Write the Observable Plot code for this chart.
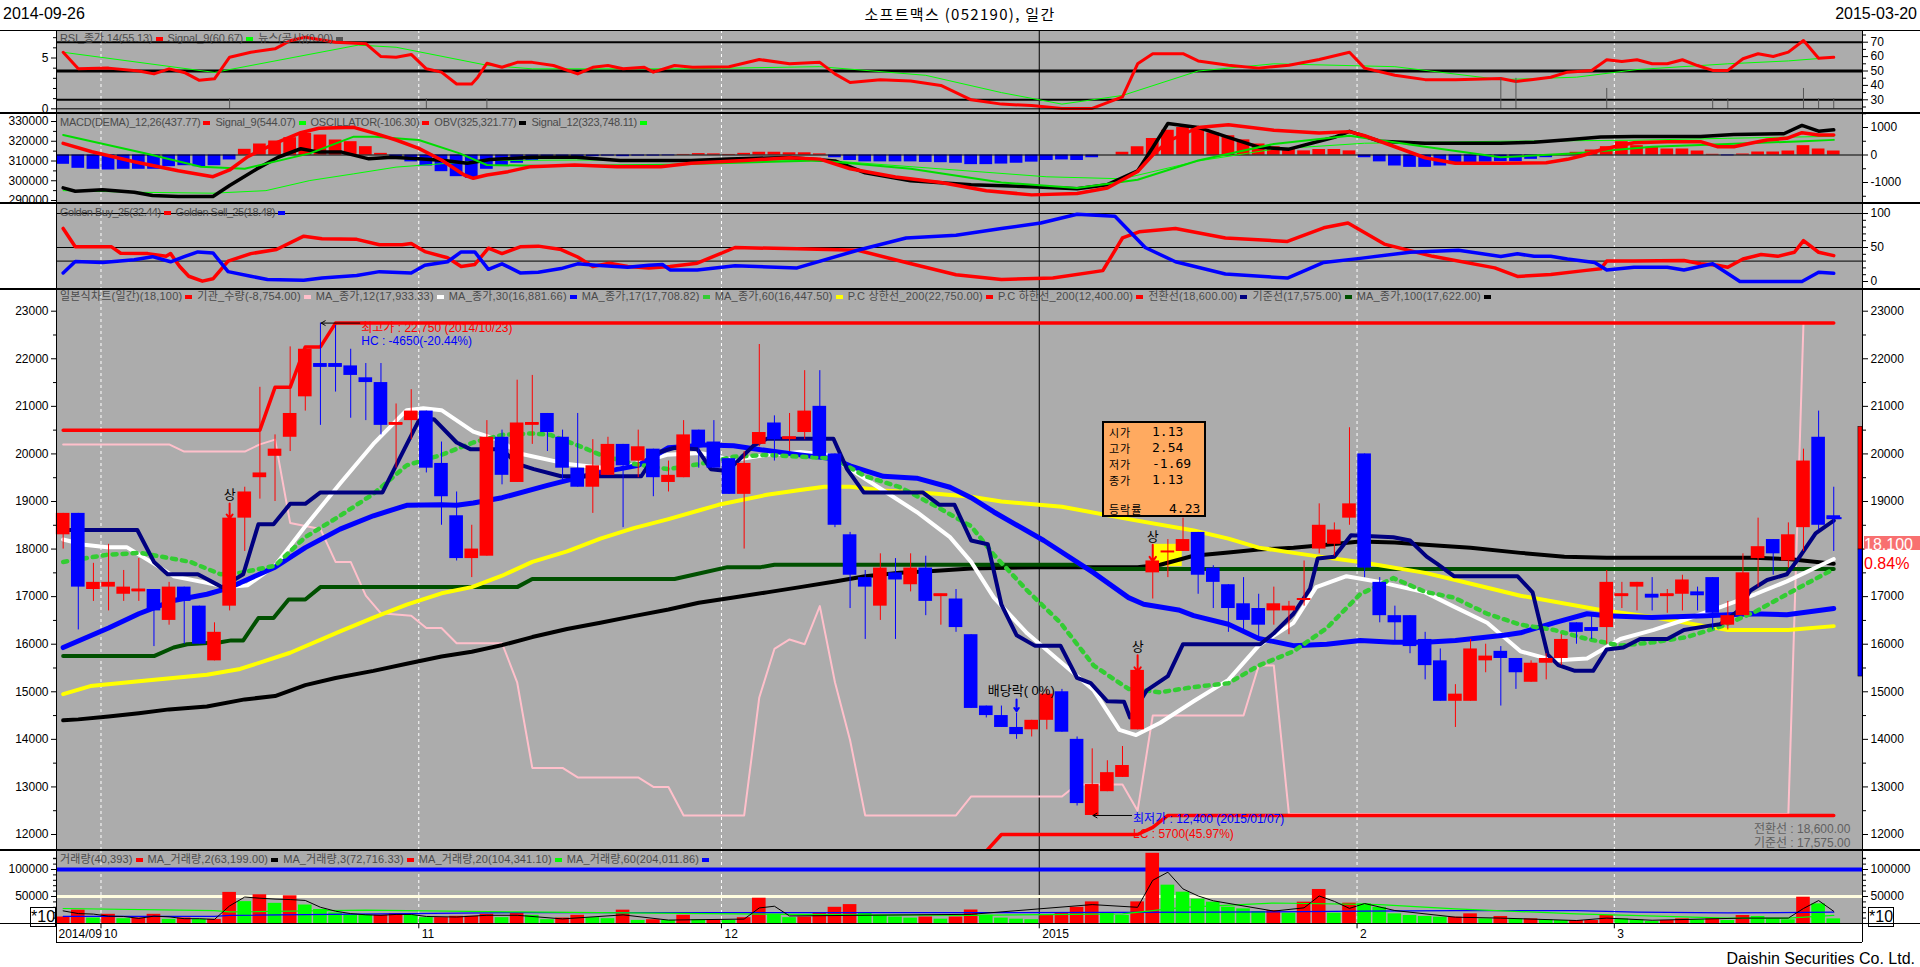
<!DOCTYPE html>
<html><head><meta charset="utf-8">
<script src="https://cdn.jsdelivr.net/npm/d3@7"></script>
<script src="https://cdn.jsdelivr.net/npm/@observablehq/plot@0.6"></script>
<style>
html,body{margin:0;padding:0;background:#fff;}
body{width:1920px;height:967px;overflow:hidden;position:relative;font-family:"Liberation Sans",Arial,"Noto Sans CJK KR",sans-serif;}
.abs{position:absolute;white-space:nowrap;}
.hl{position:absolute;left:0;width:1920px;height:1px;background:#000;}
.leg{position:absolute;left:60px;font-size:11px;color:#4a4a4a;white-space:nowrap;line-height:12px;font-family:"Liberation Sans",Arial,"Noto Sans CJK KR",sans-serif;}
.mk{display:inline-block;width:7px;height:4px;margin:0 5px 1px 3px;vertical-align:middle;}
.bx{position:absolute;left:5px;line-height:15px;height:15px;}
.bx b{font-weight:normal;font-family:"Noto Sans CJK KR",sans-serif;font-size:11px;letter-spacing:1px;}
.bx i{font-style:normal;font-family:"DejaVu Sans Mono",monospace;font-size:13px;position:absolute;top:0;}
</style></head><body>
<script>
// ---------------- DATA ----------------
const dates0 = "2014-09-26", dates1 = "2015-03-20";
const title = "소프트맥스 (052190), 일간";
const monthTicks = [{i:2.5,t:"10"},{i:23.5,t:"11"},{i:43.5,t:"12"},{i:64.5,t:"2015"},{i:85.5,t:"2"},{i:102.5,t:"3"}];
const firstTick = "2014/09";

const open  = [18300,18750,17150,17200,17050,17100,17150,16500,17200,16800,15650,16800,18650,19500,19950,20350,21200,21900,21900,21850,21600,21500,20600,20700,20900,19800,18700,17800,17850,20350,19400,20600,20850,20350,19700,19300,19550,20200,19850,20100,19400,19500,20500,20250,19900,19150,20200,20650,20300,20450,21000,20000,18300,17400,16800,17500,17250,17600,17000,16950,16200,14700,14500,14250,14200,14400,15000,14000,12400,12900,13200,14200,17500,17950,17950,18350,17600,17250,16850,16750,16700,16700,16950,18000,18100,18650,20000,17300,16600,16600,16100,15650,14800,14800,15650,15850,15700,15200,15600,15700,16450,16350,16350,17000,17200,17050,17000,17050,17100,17400,16400,16600,17800,18200,17750,18450,20350,18700];
const high  = [18750,18750,17700,18100,17550,17800,17150,17300,17200,16800,16450,18650,19300,21400,20400,22250,22200,22750,22700,22200,21900,21900,21050,21350,20900,20250,19200,18500,20700,20500,21550,21650,20850,20500,20850,20300,20350,20200,20500,20100,19850,20700,20500,20700,19900,20050,22300,20800,20850,21750,21750,20000,18350,17550,17900,17800,17900,17850,17050,17150,16200,14700,14700,14550,14400,15050,15050,14050,13800,13550,13850,15450,17750,18200,18650,18350,17650,17250,17400,17050,17200,16900,17750,18950,18550,20550,20000,17400,16800,16600,16250,15900,15150,16100,16000,15950,15700,15650,15800,16200,16450,16650,17550,17300,17300,17400,17150,17450,17200,17400,16900,17900,18650,18200,18550,20100,20900,19300];
const low   = [18000,16300,16900,16700,16900,16900,15950,16400,16000,16000,15650,16700,17950,19050,19000,20050,20900,20600,21300,20750,20700,20400,19700,20300,19600,18500,17750,17400,17850,19350,19400,20200,20050,19450,19300,18750,19550,18450,19500,19100,19200,19500,19700,19700,19150,18000,20150,19850,20050,20300,19950,18450,16750,16100,16500,16100,17100,16600,16400,16250,14650,14450,14250,14000,14050,14200,14150,12600,12400,12900,13200,14200,16950,17400,17950,17050,16750,16250,16300,16150,16400,16200,16800,17900,17850,18500,17400,16450,16050,15800,15250,14800,14250,14800,15400,14700,15050,15200,15250,15550,16000,16100,16000,16750,16700,16700,16650,16700,16700,16300,16300,16600,17200,17450,17600,17950,18400,17950];
const close = [18750,17200,17300,17300,17200,17150,16700,17200,16900,16000,16250,18650,19200,19600,20100,20850,22200,21850,21850,21650,21500,20600,20650,20900,19700,19100,17800,18000,20350,19550,20650,20650,20450,19700,19300,19750,20200,19750,20150,19500,19550,20400,20150,19700,19150,19800,20450,20300,20350,20900,19950,18500,17450,17200,17600,17350,17600,16900,17050,16350,14650,14500,14250,14100,14400,14950,14150,12650,13050,13300,13450,15450,17750,17950,18200,17450,17300,16750,16500,16400,16850,16800,16950,18500,18400,18950,17600,16600,16450,15950,15550,14800,14950,15900,15750,15700,15400,15600,15700,16100,16250,16300,17300,17050,17300,17000,17050,17350,17050,16650,16600,17500,18050,17900,18300,19850,18500,18650];

// main-panel overlay lines: [day index, price]
const ma12  = [[0,18200],[1.4,18090],[2.9,18040],[4.2,18040],[5.8,17730],[7.3,17430],[9.5,17290],[10.8,17200],[12.2,17240],[14,17650],[16,18480],[18.3,19380],[20.5,20210],[22.7,20920],[23.8,20960],[25,20920],[27.1,20470],[29,20270],[30,20020],[33.3,19790],[36.6,19680],[39.9,19980],[42.1,20020],[44.3,19870],[46.5,19980],[48.7,20040],[50.6,19980],[52,19680],[54.2,19230],[56.4,18780],[58.6,18250],[60,17730],[61.5,16980],[63.7,16230],[65.9,15630],[68.1,15030],[69.8,14200],[70.9,14090],[72.5,14350],[74.7,14800],[77,15250],[79,15970],[81.3,16450],[82.8,17200],[84.8,17430],[86.8,17320],[90,17090],[91.9,16790],[94.1,16450],[96.3,15850],[98.5,15660],[100.7,15700],[102.9,16110],[105.1,16300],[107.3,16530],[109.6,16790],[111.8,17050],[113.9,17320],[117,17790]];
const ma30  = [[0,15930],[3,16340],[5,16640],[7.3,16920],[9.5,17050],[10.8,17170],[11.7,17290],[14,17620],[16,18030],[18.3,18420],[20.5,18700],[22.7,18920],[25,18930],[26,18920],[27.1,18970],[29,19080],[32,19340],[35,19580],[38,19760],[40,20130],[42.5,20190],[44.3,20170],[46.5,20070],[48.7,19980],[50.9,19900],[52,19750],[54.2,19530],[56.4,19490],[58.6,19300],[60,19080],[61.5,18780],[64.8,18180],[68.1,17500],[70.4,16980],[71.4,16840],[73.7,16720],[74.7,16600],[77,16420],[79,16120],[81.3,15970],[83.5,16000],[85.7,16080],[87.9,16040],[90,16040],[92,16080],[95.2,16190],[96.3,16240],[98.5,16450],[100.7,16640],[102,16600],[105,16560],[108.6,16600],[111.6,16640],[113.9,16620],[117,16750]];
const ma17  = [[0,17730],[2.9,17880],[5.1,17920],[8.4,17730],[10.4,17470],[11.7,17500],[14,17650],[16,18250],[18.3,18700],[20.5,19160],[22.7,19760],[25,19980],[27.1,20240],[29,20400],[31,20430],[32.2,20400],[34.4,20130],[35.5,19980],[37.7,19790],[40,19680],[42.1,19790],[44.3,19940],[46.5,19980],[48.7,19940],[50.9,19910],[53,19530],[55.3,19300],[57.5,18930],[60,18480],[61.5,17880],[63.7,17130],[65.9,16450],[68.1,15550],[70.4,15060],[72.5,14990],[74.7,15100],[77,15180],[79,15550],[81.3,15850],[83.5,16340],[85.7,17050],[87.9,17390],[90,17100],[91.9,16980],[94.1,16640],[96.3,16410],[98.5,16300],[100.7,16110],[102.9,15970],[105.1,16040],[107.3,16150],[109.6,16380],[111.8,16680],[113.9,17050],[117,17580]];
const ma60  = [[0,14950],[1.8,15120],[5,15220],[9.5,15360],[11.7,15480],[15,15820],[18.3,16270],[20.5,16560],[22.7,16830],[25,17070],[27,17200],[29,17440],[31,17730],[33.3,17950],[35.5,18220],[37.7,18440],[40,18630],[42,18810],[43.3,18930],[46.5,19140],[48.7,19240],[50.3,19310],[52,19310],[54.2,19230],[57.5,19170],[60,19100],[62,19000],[66,18890],[70.4,18630],[74.7,18390],[77,18220],[79,18030],[81.3,17920],[83.5,17820],[85.7,17730],[90,17500],[92,17350],[96.3,17020],[101.6,16720],[105,16570],[108.5,16380],[110,16300],[114,16300],[117,16380]];
const ma100 = [[0,14400],[1,14420],[3,14480],[5,14550],[7,14630],[9.5,14690],[12,14840],[14,14910],[16,15140],[18,15290],[20.5,15440],[22.7,15590],[25,15740],[27,15840],[29,15980],[31,16150],[33.3,16320],[35.5,16450],[37.7,16590],[40,16730],[42,16870],[44.3,16980],[46.5,17090],[48.7,17200],[51,17320],[53,17430],[55.3,17500],[57.5,17540],[60,17590],[64.4,17620],[71,17620],[72.5,17670],[74.7,17860],[77,17930],[79,17990],[81.3,18030],[83.5,18090],[85.7,18160],[88,18140],[90,18090],[93,18030],[96.3,17920],[99.2,17840],[102,17820],[111.7,17820],[114,17790],[117,17690]];
const tenkan = [[0,18400],[4.9,18400],[6,17730],[6.9,17470],[8.9,17470],[10.5,17200],[11.9,17470],[12.9,18520],[13.9,18520],[15,18950],[16,18950],[17,19190],[21.1,19190],[22,19760],[23.5,20700],[24.5,20730],[26,20240],[26.9,20100],[29,20100],[30,19790],[31.1,19680],[32.9,19530],[38.2,19530],[39.2,20020],[40.4,20130],[41.9,20100],[42.8,19680],[43.9,19640],[45.6,20170],[46.5,20320],[50.9,20320],[51.8,19680],[52.9,19190],[56.8,19190],[57.9,18930],[58.9,18930],[60,18180],[61.1,18100],[62,16830],[63,16190],[64.2,15970],[65.9,15970],[67,15290],[67.9,15180],[69,14800],[70.1,14790],[70.5,14460],[71.6,15030],[73,15330],[74,16000],[79.1,16000],[80,16230],[81.3,16640],[82.4,17170],[82.9,17800],[84,17840],[85.1,18290],[87.9,18250],[89,18180],[90.1,17840],[90.8,17690],[91.9,17430],[96.1,17430],[97.1,17090],[98.1,15780],[98.8,15560],[99.9,15440],[101.1,15440],[102,15890],[103.1,15930],[104.2,16110],[106,16110],[107.1,16300],[108.6,16380],[109.5,16420],[110.6,16680],[111.5,17130],[112.6,17350],[113.9,17470],[114.6,17770],[115.8,18330],[117,18600]];
const kijun = [[0,15750],[6,15750],[7.3,15930],[8.2,16000],[10.4,16040],[11.1,16080],[11.9,16080],[12.9,16550],[13.9,16550],[14.9,16940],[16,16940],[17,17200],[30,17200],[31,17370],[40.4,17370],[41.8,17470],[43.9,17620],[46.1,17620],[47,17670],[67,17670],[68,17580],[117,17580]];
const pcUpper = [[0,20500],[13,20500],[14,21400],[15,21400],[16,22250],[17,22250],[18,22750],[117,22750]];
const pcLower = [[60,11300],[62,12000],[71,12000],[72,12150],[73,12400],[117,12400]];
// institutional quantity, drawn on the price axis as in the source chart
const inst = [[0,20200],[7,20200],[8,20050],[12,20050],[13,20200],[14,20300],[15,18550],[17,18420],[18,17730],[19,17730],[20,17020],[21,16650],[23,16600],[24,16340],[25,16340],[26,16020],[29,16020],[30,15200],[31,13400],[33,13400],[34,13200],[38,13200],[39,13000],[40,13000],[41,12400],[45,12400],[46,14880],[47,15900],[48,16100],[49,16000],[50,16800],[51,15200],[52,13980],[53,12400],[59,12400],[60,12800],[66,12800],[67,13050],[70,13050],[71,12500],[72,14500],[78,14500],[79,15550],[80,15550],[81,12430],[114,12430],[115,22750]];

// RSI panel
const rsi = [[0,63],[1,51.5],[3,52],[5,50],[6,48],[7,51.5],[8,49],[9,43.5],[10,44.6],[11,59.6],[12.4,63],[14,65.4],[15,71],[16,73.5],[18,70],[20,69],[21,60],[22,59.6],[23,61.5],[24,51.5],[25,49.2],[26,41],[27,41],[27.4,45.7],[28,55.4],[29,52.6],[30,56],[31,56],[32.4,53.8],[34,48],[35,52.6],[36,53.8],[37,51.5],[38.4,52.6],[39,49.2],[40.4,53.8],[41.6,52.6],[44,53],[46,58],[48,55],[50,56],[51,48],[52,42],[54,44],[56,43],[58,40],[60,30],[62,27],[64,26],[66,24],[68,24],[70,32],[71,55],[72,62],[74,62],[75,57],[77,54],[79,52],[81,54],[83,58],[85,63],[86,52],[88,47],[90,44],[92,44],[95,44.8],[96,42.7],[97,43.9],[98.3,45.7],[99.4,49.2],[101,50.4],[102,57.8],[103,56.6],[104,57.8],[105,55],[106,55],[107,57.8],[108,53.8],[109,50.4],[110,50.4],[111,58.5],[112,62],[113,60.1],[114,63.1],[115,71.2],[116,58.9],[117,59.5]];
const rsiSig = [[0,63],[10,49],[19.5,68],[22,66.5],[28,54],[31,51.5],[41,51.5],[50,53],[57,47],[62,35],[66,27],[70,33],[75,50],[80,55],[88,53],[95,44],[100,45.7],[104,51],[110,55],[114,57],[117,59.5]];
const news = [[11,1],[24,1],[28,1],[95,3],[96,3],[102,2],[109,1],[110,1],[115,2],[116,1],[117,1]];

// MACD panel
const osc = [-338,-484,-520,-545,-520,-520,-520,-425,-389,-425,-389,-180,207,400,509,630,788,727,545,484,303,60,-60,-250,-400,-606,-788,-848,-520,-400,-300,-200,-150,-100,-80,-60,-40,-60,-40,-40,-30,20,50,40,20,60,100,100,80,80,40,-100,-200,-250,-250,-250,-250,-270,-280,-300,-350,-350,-330,-300,-260,-200,-180,-200,-100,0,100,300,600,900,1000,950,800,700,550,400,300,200,150,200,200,150,-100,-250,-400,-450,-450,-400,-350,-300,-260,-242,-242,-158,-97,-10,98,182,303,484,339,280,218,218,145,25,-30,36,109,109,145,339,218,145];
const macd = [[0,425],[1.9,120],[4.7,-244],[7.6,-570],[9.9,-788],[11,-545],[12.2,-60],[14,425],[15.7,812],[16.9,970],[19.2,1006],[20.6,788],[22,545],[23.5,242],[25,-180],[26.5,-727],[27.1,-848],[28,-727],[29.4,-606],[30.9,-424],[33.8,-364],[36.6,-424],[39.5,-424],[41.5,-303],[45,-200],[48,-100],[50,-150],[52,-500],[55,-800],[58,-1000],[61,-1300],[64,-1450],[67,-1400],[69,-1200],[71,-600],[72,0],[73,500],[75,1000],[77,1100],[80,900],[83,800],[85,850],[86,700],[88,300],[90,-100],[92,-300],[95,-302],[98,-280],[99.4,-158],[100.3,-36],[101.6,182],[102.7,327],[103.8,448],[106,484],[108.2,484],[109.3,303],[110.4,303],[111.5,425],[112.6,545],[113.9,606],[114.9,812],[116,727],[117,727]];
const macdSig = [[0,727],[5.4,60],[9.1,-424],[12,-500],[16.3,60],[19.2,666],[20.6,666],[23.5,545],[26.2,60],[28,-364],[32,-400],[40,-350],[50,-200],[56,-500],[62,-1000],[67,-1200],[71,-900],[75,-200],[80,400],[85,700],[90,300],[95,-80],[100,60],[105,300],[110,400],[115,500],[117,550]];
const obv = [[0,296400],[0.8,294700],[2.6,295400],[4.7,294200],[5.9,292500],[7.6,292000],[9.9,292000],[11,297600],[12.8,306000],[14.2,311900],[15.7,316200],[16.9,314500],[18.4,314500],[20.2,311100],[21.7,311900],[23.5,311100],[25.2,310250],[26.7,308900],[28.2,310760],[31,311900],[33.9,311900],[36.8,310250],[41.5,310250],[44,311000],[48,311800],[51,310000],[53,304000],[56,300000],[60,298000],[64,297000],[67,296000],[69,298000],[71,305000],[72,316800],[73,329000],[75,327000],[77,322000],[79,317000],[81,316000],[84,322000],[85,325000],[87,320000],[90,319000],[95,319000],[97.2,319500],[99.4,320700],[101.6,322100],[103.8,322400],[108.2,322400],[110.4,323400],[113.7,323800],[114.9,328000],[116,325100],[117,325800]];
const obvSig = [[0,295000],[4.7,294200],[9.9,293700],[13.4,295000],[16.3,300100],[19.2,303500],[22,306900],[25,308600],[28,310250],[33.9,310500],[41.5,310250],[50,310500],[58,306000],[65,302000],[70,301000],[75,310000],[80,316000],[86,319000],[95,320000],[103.8,320500],[110,321500],[117,322500]];

// Golden panel
const gBuy = [[0,78],[0.8,51],[3.2,51],[3.8,41.5],[5.6,41],[6.8,37],[7.1,41],[7.7,22],[8.3,7.7],[9.2,0.5],[9.9,4],[10.9,30],[12.4,41],[14.1,47],[15.9,66.7],[17.1,63],[19.4,62],[20.9,54],[22.4,54],[23,56],[23.9,44],[25.4,35],[26.3,22],[27.2,25],[28.1,49],[29,41],[30.2,51],[31.4,52],[32.9,47],[34,36],[35,22],[36.1,27],[37.3,22],[38.7,20],[40.1,22],[41.9,27],[44.4,50],[48.5,48],[52.5,46],[55.7,28],[59,10],[62,3],[65.4,5],[68.7,16],[70,64],[71.1,73],[73.5,78],[76.8,64],[80.9,59],[83.3,79],[84.9,86],[87.3,55],[90.5,37],[94.6,20],[96.1,7.4],[98.3,10.3],[100.5,16],[101.6,18.6],[102,30],[103.8,30],[107.1,31],[108.2,26],[109.3,24],[110,21],[111,33],[112.2,39.7],[113.3,37],[114.4,43],[115,60],[116,43],[117,38]];
const gSell = [[0,12.6],[0.8,29.4],[2.6,28],[4.7,32],[5.9,36.5],[7.1,29],[8,36.5],[8.9,43.5],[9.9,42],[10.9,14.5],[12.4,7.7],[13.5,3],[15.9,2],[17.1,5],[19.4,8.7],[20.9,14.5],[23,12.6],[23.9,24],[25.4,29],[26.3,43.5],[27.2,43.5],[28.1,17.9],[29,26],[30.2,12.6],[31.4,13.5],[32.9,19],[34,26],[35.2,24],[37.3,21],[38.7,24],[39.6,25],[40.1,17],[41.9,17],[44.4,23],[48.5,20],[52.5,46],[55.7,64],[59,68],[62,78],[64.6,86],[67,99],[69.5,96],[71.5,50],[73.5,29],[76.8,11],[80.9,5],[83.3,28],[85.7,34],[89,43],[92.2,46],[95,36.8],[96.1,40.7],[97.2,37],[98.3,37],[99.4,33],[101.2,28],[102,17],[103.8,21],[106,21],[107.1,17],[109,26],[110.8,0],[114.9,0],[116,13.7],[117,12]];

// Volume panel
const vol = [12000,24700,10100,17000,8900,10100,17000,7600,10100,7600,7600,57600,40500,53200,37300,51300,34200,26000,19600,17100,15200,15200,18400,15200,10800,10800,13300,13300,17100,10800,19600,15200,7000,10100,15200,10800,8900,24700,5700,7000,5700,15200,7000,7000,5700,10800,46800,17100,10800,12000,20000,30000,35000,20000,15000,12000,10000,12000,8000,12000,25000,15000,10000,8000,7000,15000,20000,30000,40000,20000,15000,40000,130000,71000,58000,45000,39500,30200,27100,22200,24000,19100,39500,63000,19100,37600,36400,30000,17900,14800,13000,11700,11700,17900,8600,13000,8600,8600,6800,5500,5500,5500,14800,8600,6800,3700,5500,8600,6800,8600,5500,14800,13000,8600,6800,48700,36400,8600];
const volMa20 = [[0,27800],[10,24000],[11,21500],[20,24700],[30,21500],[48,17000],[60,15000],[70,18000],[74,30000],[80,38000],[87,35000],[92,27000],[100,17900],[110,10000],[114,10000],[117,15000]];
const volMa60 = [[0,13300],[10,13300],[11,15200],[30,20200],[60,20000],[76,21000],[86,22800],[92,24000],[100,24000],[104,21000],[110,19500],[117,21000]];
const volMa2  = [[0,23400],[1,18400],[2,17400],[3,13600],[4,13000],[5,9500],[6,13600],[7,12300],[8,8900],[9,8900],[10,7600],[11,32600],[12,49000],[13,46800],[14,45200],[15,44300],[16,42700],[17,30100],[18,22800],[19,18300],[20,16100],[21,15200],[22,16800],[23,16800],[24,13000],[26,12000],[28,15200],[30,15200],[33,8500],[37,16000],[40,6300],[45,8200],[46,28800],[47,32000],[48,14000],[60,17000],[68,35000],[71,30000],[72,80000],[73,95000],[74,64000],[75,51000],[76,42000],[80,23000],[82,29000],[83,51000],[84,41000],[85,28000],[86,37000],[88,24000],[92,11700],[95,10000],[100,5500],[102,10000],[105,6000],[111,10000],[114,10000],[115,27800],[116,42500],[117,22500]];

// ---------------- RENDER ----------------
const FONT = '"Liberation Sans", Arial, "Noto Sans CJK KR", sans-serif';
const BG = "#acacac";
const XD = [-0.44, 118.9];
const dividers = [2.5, 23.5, 43.5, 85.5, 102.5];
const P = d => d[0], V = d => d[1];
const candles = open.map((o, i) => ({i, o, h: high[i], l: low[i], c: close[i], col: close[i] >= o ? "#ff0000" : "#0000ff"}));

function el(html) { const d = document.createElement("div"); d.innerHTML = html; const n = d.firstElementChild; document.body.appendChild(n); return n; }
function plot(height, yd, yr, marks) {
  const svg = Plot.plot({
    width: 1920, height, marginLeft: 56, marginRight: 58, marginTop: 0, marginBottom: 0,
    x: {domain: XD, axis: null}, y: {domain: yd, range: yr, axis: null},
    color: {type: "identity"},
    style: {background: "transparent", fontFamily: FONT, fontSize: "12px", color: "#000", overflow: "visible"},
    marks
  });
  svg.style.position = "absolute"; svg.style.left = "0px"; svg.style.top = "0px";
  return svg;
}
function panel(top, height, layers) {
  const div = document.createElement("div");
  div.style.cssText = `position:absolute;left:0;top:${top}px;width:1920px;height:${height}px;`;
  layers.forEach(l => div.appendChild(plot(height, l.yd, l.yr, l.marks)));
  document.body.appendChild(div);
}
const vgrid = () => [
  Plot.ruleX(dividers, {stroke: "#fff", strokeDasharray: "3,3"}),
  Plot.ruleX([64.5], {stroke: "#000"})
];
const bg = () => Plot.frame({fill: BG, stroke: null});
const borders = () => [Plot.ruleX([XD[0], XD[1]], {stroke: "#000"})];
const axR = (ticks, minor, hide = []) => [
  Plot.axisY({anchor: "right", label: null, ticks, tickSize: 5, tickPadding: 3, tickFormat: d => hide.includes(d) ? "" : String(d)}),
  ...(minor ? [Plot.axisY({anchor: "right", label: null, ticks: minor, tickSize: 3, tickFormat: () => ""})] : [])
];
const axL = (ticks, minor) => [
  Plot.axisY({anchor: "left", label: null, ticks, tickSize: 5, tickPadding: 3, tickFormat: d => String(d)}),
  ...(minor ? [Plot.axisY({anchor: "left", label: null, ticks: minor, tickSize: 3, tickFormat: () => ""})] : [])
];
const line = (data, stroke, w, extra = {}) => Plot.line(data, {x: P, y: V, stroke, strokeWidth: w, curve: "linear", ...extra});
function legend(top, items, right) {
  const n = el(`<div class="leg" style="top:${top}px">` + items.map(([t, c]) => `${t}<span class="mk" style="background:${c}"></span>`).join("") + `</div>`);
  const w = n.getBoundingClientRect().width;
  const chars = items.reduce((s, [t]) => s + t.length, 0);
  n.style.letterSpacing = ((right - 60 - w) / chars).toFixed(3) + "px";
}

// header
el(`<div class="abs" style="left:3px;top:5px;font:bold 13px ${FONT}">${dates0}</div>`);
el(`<div class="abs" style="left:0;width:1920px;top:3px;text-align:center;font:15px 'Noto Sans CJK KR',sans-serif;letter-spacing:1.3px">${title}</div>`);
el(`<div class="abs" style="right:3px;top:5px;font:bold 13px ${FONT}">${dates1}</div>`);

// RSI panel (30..113)
panel(30, 83, [
  {yd: [30, 70], yr: [69.3, 11.7], marks: [
    bg(), ...vgrid(),
    Plot.ruleY([70, 30], {stroke: "#000", strokeWidth: 2}),
    Plot.ruleY([50], {stroke: "#000", strokeWidth: 3}),
    line(rsiSig, "#00ff00", 1),
    line(rsi, "#ff0000", 3),
    ...axR([30, 40, 50, 60, 70], d3.range(25, 76, 5).filter(v => v % 10)),
    ...borders()
  ]},
  {yd: [0, 5], yr: [78.3, 27.5], marks: [
    Plot.ruleX(news, {x: P, y1: 0, y2: V, stroke: "#555"}),
    Plot.ruleY([0], {stroke: "#000"}),
    ...axL([0, 5], [1, 2, 3, 4, 6, 7])
  ]}
]);
legend(32, [["RSI_종가,14(55.13)", "#ff0000"], ["Signal_9(60.67)", "#00ff00"], ["뉴스(공시)(0.00)", "#555"]], 348);

// MACD panel (113..203)
panel(113, 90, [
  {yd: [-1000, 1000], yr: [69, 14], marks: [
    bg(), ...vgrid(),
    Plot.rect(osc.map((v, i) => [i, v]), {x1: d => d[0] - 0.42, x2: d => d[0] + 0.42, y1: 0, y2: V, fill: d => d[1] >= 0 ? "#ff0000" : "#0000ff"}),
    Plot.ruleY([0], {stroke: "#000"}),
    ...axR([-1000, 0, 1000], [-1500, -500, 500, 1500])
  ]},
  {yd: [290000, 330000], yr: [87, 8], marks: [
    line(obvSig, "#00ff00", 1),
    line(obv, "#000000", 3.5),
    ...axL([290000, 300000, 310000, 320000, 330000], [295000, 305000, 315000, 325000])
  ]},
  {yd: [-1000, 1000], yr: [69, 14], marks: [
    line(macdSig, "#00dd00", 2),
    line(macd, "#ff0000", 3.5),
    ...borders()
  ]}
]);
legend(116, [["MACD(DEMA)_12,26(437.77)", "#ff0000"], ["Signal_9(544.07)", "#00ff00"], ["OSCILLATOR(-106.30)", "#ff0000"], ["OBV(325,321.77)", "#000"], ["Signal_12(323,748.11)", "#00ff00"]], 652);

// Golden panel (203..289)
panel(203, 86, [
  {yd: [0, 100], yr: [78, 10], marks: [
    bg(), ...vgrid(),
    Plot.ruleY([100, 50, 30], {stroke: "#000"}),
    line(gBuy, "#ff0000", 3.5),
    line(gSell, "#0000ff", 3.5),
    ...axR([0, 50, 100], [10, 20, 30, 40, 60, 70, 80, 90]),
    ...borders()
  ]}
]);
legend(206, [["Golden Buy_25(32.44)", "#ff0000"], ["Golden Sell_25(18.48)", "#0000ff"]], 290);

// Main panel (289..850)
const priceTicks = d3.range(12000, 23001, 1000);
const priceMinor = d3.range(11500, 23500, 500).filter(v => v % 1000);
panel(289, 561, [
  {yd: [12000, 23000], yr: [545, 21.7], marks: [
    bg(), ...vgrid(),
    Plot.rect([[72, 73.95]], {x1: d => d[0], x2: d => d[1], y1: 17630, y2: 18100, fill: "#ffff00"}),
    line(inst, "#ffc0cb", 2),
    line(pcUpper, "#ff0000", 3.5),
    line(pcLower, "#ff0000", 3.5, {clip: true}),
    line(ma100, "#000000", 4),
    line(kijun, "#005000", 4),
    line(ma60, "#ffff00", 4),
    line(ma12, "#ffffff", 4),
    line(ma30, "#0000ff", 5),
    line(ma17, "#33cc33", 4.5, {strokeDasharray: "4,6"}),
    line(tenkan, "#000080", 4),
    Plot.ruleX(candles, {x: "i", y1: "l", y2: "h", stroke: "col"}),
    Plot.rect(candles, {x1: d => d.i - 0.45, x2: d => d.i + 0.45, y1: d => Math.min(d.o, d.c), y2: d => Math.max(d.o, d.c), fill: "col"}),
    Plot.ruleY(candles.filter(d => Math.abs(d.o - d.c) < 60), {y: "c", x1: d => d.i - 0.45, x2: d => d.i + 0.45, stroke: "col", strokeWidth: 2}),
    Plot.ruleY([18650], {x1: 117, x2: 117.55, stroke: "#0000ff", strokeWidth: 2}),
    // annotations
    Plot.arrow([0], {x1: 19.6, y1: 22750, x2: 17.05, y2: 22750, stroke: "#000", strokeWidth: 1, headLength: 7}),
    Plot.text(["최고가 : 22,750 (2014/10/23)"], {x: 19.7, y: 22650, text: d => d, fill: "#ff0000", textAnchor: "start", fontSize: 12}),
    Plot.text(["HC : -4650(-20.44%)"], {x: 19.7, y: 22365, text: d => d, fill: "#0000ff", textAnchor: "start", fontSize: 12}),
    Plot.arrow([0], {x1: 70.6, y1: 12400, x2: 68.05, y2: 12400, stroke: "#000", strokeWidth: 1, headLength: 7}),
    Plot.text(["최저가 : 12,400 (2015/01/07)"], {x: 70.7, y: 12325, text: d => d, fill: "#0000ff", textAnchor: "start", fontSize: 12}),
    Plot.text(["LC : 5700(45.97%)"], {x: 70.7, y: 12010, text: d => d, fill: "#ff0000", textAnchor: "start", fontSize: 12}),
    Plot.text([[11, 19130], [71, 15935], [72, 18265]], {x: P, y: V, text: () => "상", fill: "#000", fontSize: 13, fontFamily: "Noto Sans CJK KR"}),
    Plot.arrow([[11, 18960, 18640], [71, 15770, 15420], [72, 18090, 17740]], {x1: P, x2: P, y1: d => d[1], y2: d => d[2], stroke: "#ff0000", strokeWidth: 2, headLength: 6, headAngle: 70}),
    Plot.text(["배당락( 0%)"], {x: 61.1, y: 15030, text: d => d, fill: "#000", textAnchor: "start", fontSize: 13}),
    Plot.arrow([[63, 14840, 14590]], {x1: P, x2: P, y1: d => d[1], y2: d => d[2], stroke: "#0000ff", strokeWidth: 2, headLength: 6, headAngle: 70}),
    Plot.text(["전환선 : 18,600.00", "기준선 : 17,575.00"], {x: 118.1, y: (d, i) => [12113, 11813][i], text: d => d, fill: "#606060", textAnchor: "end", fontSize: 12}),
    Plot.rect([[20570, 17990, "#ff0000"], [17990, 15320, "#0000ff"]], {x1: 118.63, x2: 118.9, y1: d => d[0], y2: d => d[1], fill: d => d[2], stroke: "#000", strokeWidth: 0.5}),
    ...axR(priceTicks, priceMinor, [18000]), ...axL(priceTicks, priceMinor),
    ...borders()
  ]}
]);
legend(290, [["일본식차트(일간)(18,100)", "#ff0000"], ["기관_수량(-8,754.00)", "#ffc0cb"], ["MA_종가,12(17,933.33)", "#fff"], ["MA_종가,30(16,881.66)", "#0000ff"], ["MA_종가,17(17,708.82)", "#33cc33"], ["MA_종가,60(16,447.50)", "#ffff00"], ["P.C 상한선_200(22,750.00)", "#ff0000"], ["P.C 하한선_200(12,400.00)", "#ff0000"], ["전환선(18,600.00)", "#000080"], ["기준선(17,575.00)", "#005000"], ["MA_종가,100(17,622.00)", "#000"]], 1496);
// price change box (values relative to previous close)
const boxRows = [["시가", "1.13", 1], ["고가", "2.54", 17], ["저가", "-1.69", 33], ["종가", "1.13", 49], ["등락률", "4.23", 78]];
el(`<div class="abs" style="left:1102px;top:421px;width:100px;height:92px;background:#ffaa60;border:2px solid #000;color:#000">` +
  boxRows.map(([k, v, t]) => `<div class="bx" style="top:${t}px"><b>${k}</b><i style="left:${k.length > 2 ? 60 : 43}px">${v}</i></div>`).join("") + `</div>`);
el(`<div class="abs" style="left:1864px;top:536px;width:56px;height:14px;background:#f87070;color:#fff;font:12px ${FONT};text-align:center;line-height:14px">18,100</div>`);
el(`<div class="abs" style="left:1864px;top:555px;width:56px;color:#ff0000;font:12px ${FONT};text-align:center;line-height:13px">0.84%</div>`);

// Volume panel (850..923)
const vbars = vol.map((v, i) => ({i, v, col: i > 0 && v < vol[i - 1] ? "#00ff00" : "#ff0000"}));
panel(850, 73, [
  {yd: [0, 100000], yr: [73, 19], marks: [
    bg(), ...vgrid(),
    Plot.ruleY([50000], {stroke: "#fffde0", strokeWidth: 3}),
    Plot.ruleY([100000], {stroke: "#0000ff", strokeWidth: 4}),
    Plot.rect(vbars, {x1: d => d.i - 0.45, x2: d => d.i + 0.45, y1: 0, y2: "v", fill: "col", clip: true}),
    line(volMa60, "#0000ff", 1.2),
    line(volMa20, "#00ff00", 1.2),
    line(volMa2, "#000", 1),
    ...axR([50000, 100000], [10000, 20000, 30000, 40000, 60000, 70000, 80000, 90000, 110000, 120000]),
    ...axL([50000, 100000], [10000, 20000, 30000, 40000, 60000, 70000, 80000, 90000, 110000, 120000]),
    ...borders()
  ]}
]);
legend(853, [["거래량(40,393)", "#ff0000"], ["MA_거래량,2(63,199.00)", "#000"], ["MA_거래량,3(72,716.33)", "#ff0000"], ["MA_거래량,20(104,341.10)", "#00ff00"], ["MA_거래량,60(204,011.86)", "#0000ff"]], 714);
el(`<div class="abs" style="left:30px;top:907px;border:1px solid #000;font:11px ${FONT};padding:0 1px;line-height:13px;background:#fff">*10</div>`);
el(`<div class="abs" style="left:1868px;top:907px;border:1px solid #000;font:11px ${FONT};padding:0 1px;line-height:13px;background:#fff">*10</div>`);

// x axis row (923..942)
{
  const div = document.createElement("div");
  div.style.cssText = "position:absolute;left:0;top:923px;width:1920px;height:19px;";
  div.appendChild(plot(19, [0, 1], [19, 0], [
    Plot.ruleX(monthTicks, {x: "i", y1: 1, y2: 0.72, stroke: "#000"}),
    Plot.text(monthTicks, {x: "i", y: 0.45, text: "t", textAnchor: "start", dx: 3, fontSize: 12, fill: "#000"}),
    Plot.text([firstTick], {x: XD[0], y: 0.45, text: d => d, textAnchor: "start", dx: 2, fontSize: 12, fill: "#000"}),
    Plot.ruleX([XD[0], XD[1]], {stroke: "#000"}),
    Plot.ruleY([0], {stroke: "#000"})
  ]));
  document.body.appendChild(div);
}
// frame lines
el(`<div class="hl" style="top:30px"></div>`);
[113, 203, 289, 850].forEach(y => el(`<div class="hl" style="top:${y - 1}px;height:2px"></div>`));
el(`<div class="hl" style="top:923px"></div>`);
el(`<div class="abs" style="left:0;top:950px;width:1915px;text-align:right;font:bold 13px ${FONT}">Daishin Securities Co. Ltd.</div>`);
</script>
</body></html>
